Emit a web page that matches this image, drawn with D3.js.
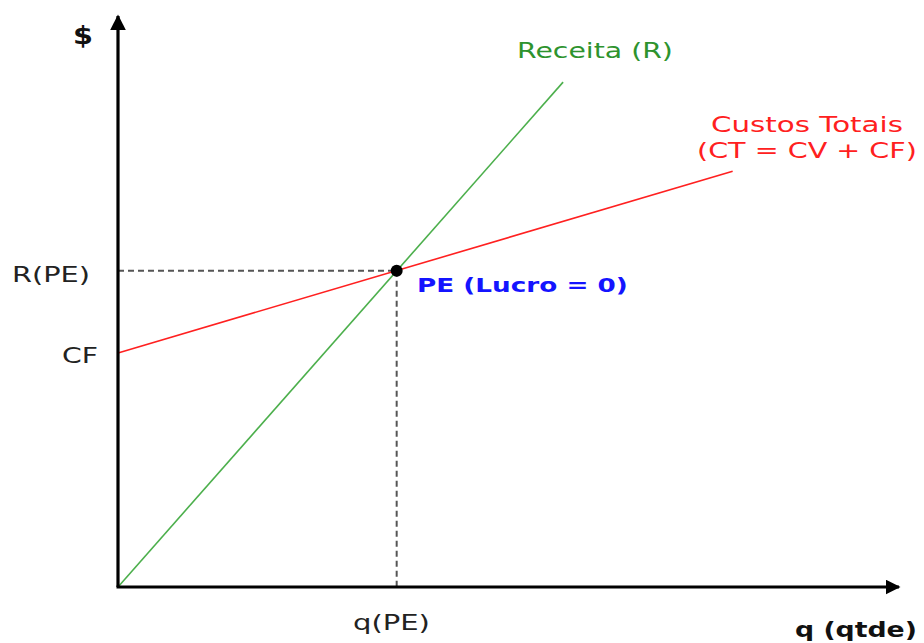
<!DOCTYPE html>
<html><head><meta charset="utf-8">
<script src="https://cdn.jsdelivr.net/npm/d3@7"></script>
<style>body{margin:0;background:#fff}svg{display:block}</style>
</head><body>
<script>
// Data (q in units of quantity, $ in money units)
const receitaQ = [0, 56.7];
const receitaV = [0, 87.8];
const custosQ = [0, 78.3];
const custosV = [40.7, 72.3];
const pePoint = [35.5, 55];   // break-even: q(PE), R(PE)
const cfValue = 40.7;
const yTickLabels = ["R(PE)", "CF"];
const xTickLabels = ["q(PE)"];

const W = 924, H = 643;
const svg = d3.select("body").append("svg").attr("width", W).attr("height", H);
const x = d3.scaleLinear().domain([0, 100]).range([118, 903]);
const y = d3.scaleLinear().domain([0, 100]).range([587, 12]);
const font = "DejaVu Sans, Verdana, sans-serif";

// dashed guides
svg.append("line").attr("x1", x(0)).attr("x2", x(pePoint[0])).attr("y1", y(pePoint[1])).attr("y2", y(pePoint[1]))
  .attr("stroke", "#555").attr("stroke-width", 2).attr("stroke-dasharray", "6,4");
svg.append("line").attr("x1", x(pePoint[0])).attr("x2", x(pePoint[0])).attr("y1", y(pePoint[1])).attr("y2", y(0))
  .attr("stroke", "#555").attr("stroke-width", 2).attr("stroke-dasharray", "6,4");

const line = d3.line().x(d => x(d[0])).y(d => y(d[1]));
svg.append("path").datum(custosQ.map((q, i) => [q, custosV[i]])).attr("d", line)
  .attr("fill", "none").attr("stroke", "#ff2020").attr("stroke-width", 1.6);
svg.append("path").datum(receitaQ.map((q, i) => [q, receitaV[i]])).attr("d", line)
  .attr("fill", "none").attr("stroke", "#4caf4c").attr("stroke-width", 1.6);

// axes
svg.append("defs").append("marker").attr("id", "arr").attr("viewBox", "0 0 10 10")
  .attr("refX", 9).attr("refY", 5).attr("markerWidth", 5).attr("markerHeight", 5)
  .attr("markerUnits", "strokeWidth").attr("orient", "auto")
  .append("path").attr("d", "M0,0L10,5L0,10z").attr("fill", "#000");
svg.append("line").attr("x1", x(0)).attr("y1", y(0)).attr("x2", x(0)).attr("y2", y(100) + 4)
  .attr("stroke", "#000").attr("stroke-width", 3.2).attr("marker-end", "url(#arr)");
svg.append("line").attr("x1", x(0) - 1.5).attr("y1", y(0)).attr("x2", x(100) - 4).attr("y2", y(0))
  .attr("stroke", "#000").attr("stroke-width", 3).attr("marker-end", "url(#arr)");

// break-even point
svg.append("circle").attr("cx", x(pePoint[0])).attr("cy", y(pePoint[1])).attr("r", 6).attr("fill", "#000");

// labels: stretched horizontally to match the wide lettering of the original
const t = (txt, px, py, len, opts = {}) => {
  const g = svg.append("g");
  const el = g.append("text").attr("x", 0).attr("y", 0)
    .attr("font-family", font).attr("font-size", opts.size || 21).attr("fill", opts.fill || "#222")
    .attr("font-weight", opts.weight || "normal").text(txt);
  let sx = 1;
  if (len) sx = len / el.node().getComputedTextLength();
  g.attr("transform", `translate(${px},${py}) scale(${sx},1)`);
  return el;
};

t(yTickLabels[0], 12, y(pePoint[1]) + 11, 78);
t(yTickLabels[1], 62, y(cfValue) + 10, 36);
t(xTickLabels[0], 353, 630, 77);
t("$", 73, 44, 20, {size: 25, weight: "bold", fill: "#111"});
t("q (qtde)", 795, 637, 122, {size: 21, weight: "bold", fill: "#111"});
t("Receita (R)", 517, 58, 156, {fill: "#2e932e"});
t("Custos Totais", 711, 132, 192, {fill: "#ff2020"});
t("(CT = CV + CF)", 697, 158, 220, {fill: "#ff2020"});
t("PE (Lucro = 0)", 417, 292, 211, {size: 20, weight: "bold", fill: "#1414ff"});
</script>
</body></html>
